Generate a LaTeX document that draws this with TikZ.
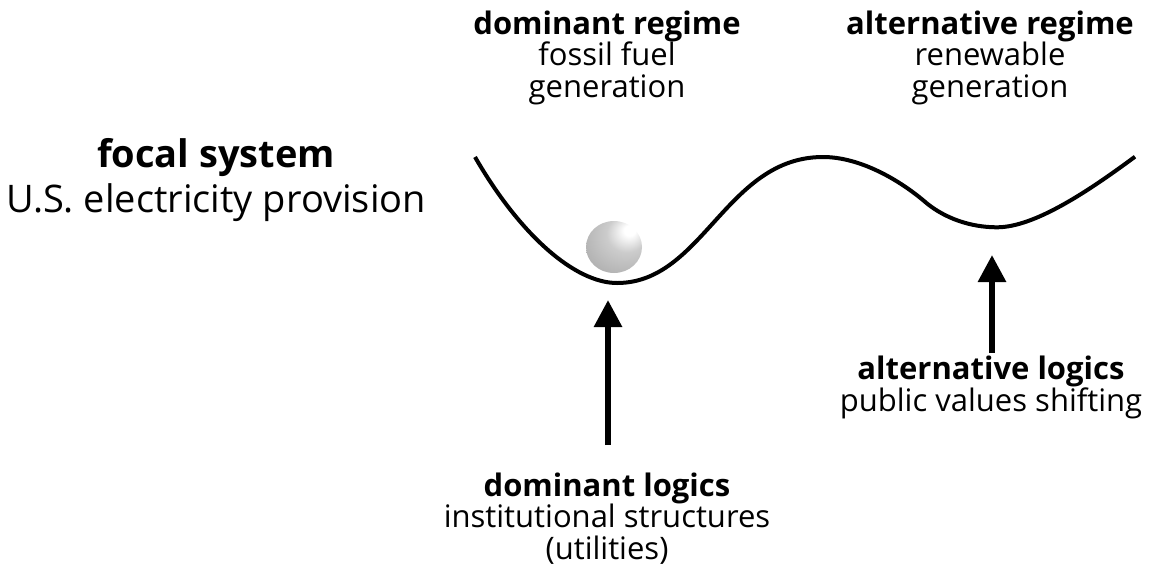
\documentclass[tikz,border=0pt]{standalone}
\usepackage{fontspec}
\setmainfont{Open Sans}
\usetikzlibrary{arrows.meta,shapes.geometric}
% soft grey sphere, lit from the upper right
\pgfdeclareradialshading{marble}{\pgfpoint{15bp}{17bp}}{%
  color(0bp)=(white); color(5bp)=(white); color(18bp)=(black!20);
  color(40bp)=(black!32); color(55bp)=(black!42); color(75bp)=(black!48)}
\begin{document}
\begin{tikzpicture}[x=1pt,y=-1pt,
  lbl/.style={font=\fontsize{31}{31.5}\selectfont, align=center, inner sep=0pt},
  biglbl/.style={font=\fontsize{38}{45}\selectfont, align=center, inner sep=0pt},
  push/.style={line width=6pt, -{Triangle[length=27pt,width=27pt]}},
  valley/.style={line width=4pt, line join=round}]
\useasboundingbox (0,0) rectangle (1153,568);

% landscape with two valleys
\draw[valley] (475,157) .. controls (520,235) and (575,283) .. (617,283)
  .. controls (703,283) and (726,157) .. (823,157)
  .. controls (860,157) and (900,180) .. (927,203.5)
  .. controls (945,218) and (970,227.3) .. (997,227.3)
  .. controls (1035,227.3) and (1090,190) .. (1135,156.7);

% the system state
\node[ellipse, minimum width=56pt, minimum height=52pt, inner sep=0pt,
  shading=marble] (ball) at (614,247) {};

% labels (anchored at the baseline of their last line)
\node[biglbl, anchor=base] (focal) at (216,212)
  {\textbf{focal system}\\U.S. electricity provision};
\node[lbl, anchor=base] (domreg) at (607,97)
  {\textbf{dominant regime}\\fossil fuel\\generation};
\node[lbl, anchor=base] (altreg) at (990,97)
  {\textbf{alternative regime}\\renewable\\generation};
\node[lbl, anchor=base] (domlog) at (607,559)
  {\textbf{dominant logics}\\institutional structures\\(utilities)};
\node[lbl, anchor=base] (altlog) at (991,411)
  {\textbf{alternative logics}\\public values shifting};

% forces acting on the landscape
\coordinate (domfoot) at (608,445);
\coordinate (domtip) at (608,300);
\coordinate (altfoot) at (992,353);
\coordinate (alttip) at (992,255);
\draw[push] (domfoot) -- (domtip);
\draw[push] (altfoot) -- (alttip);
\end{tikzpicture}
\end{document}
